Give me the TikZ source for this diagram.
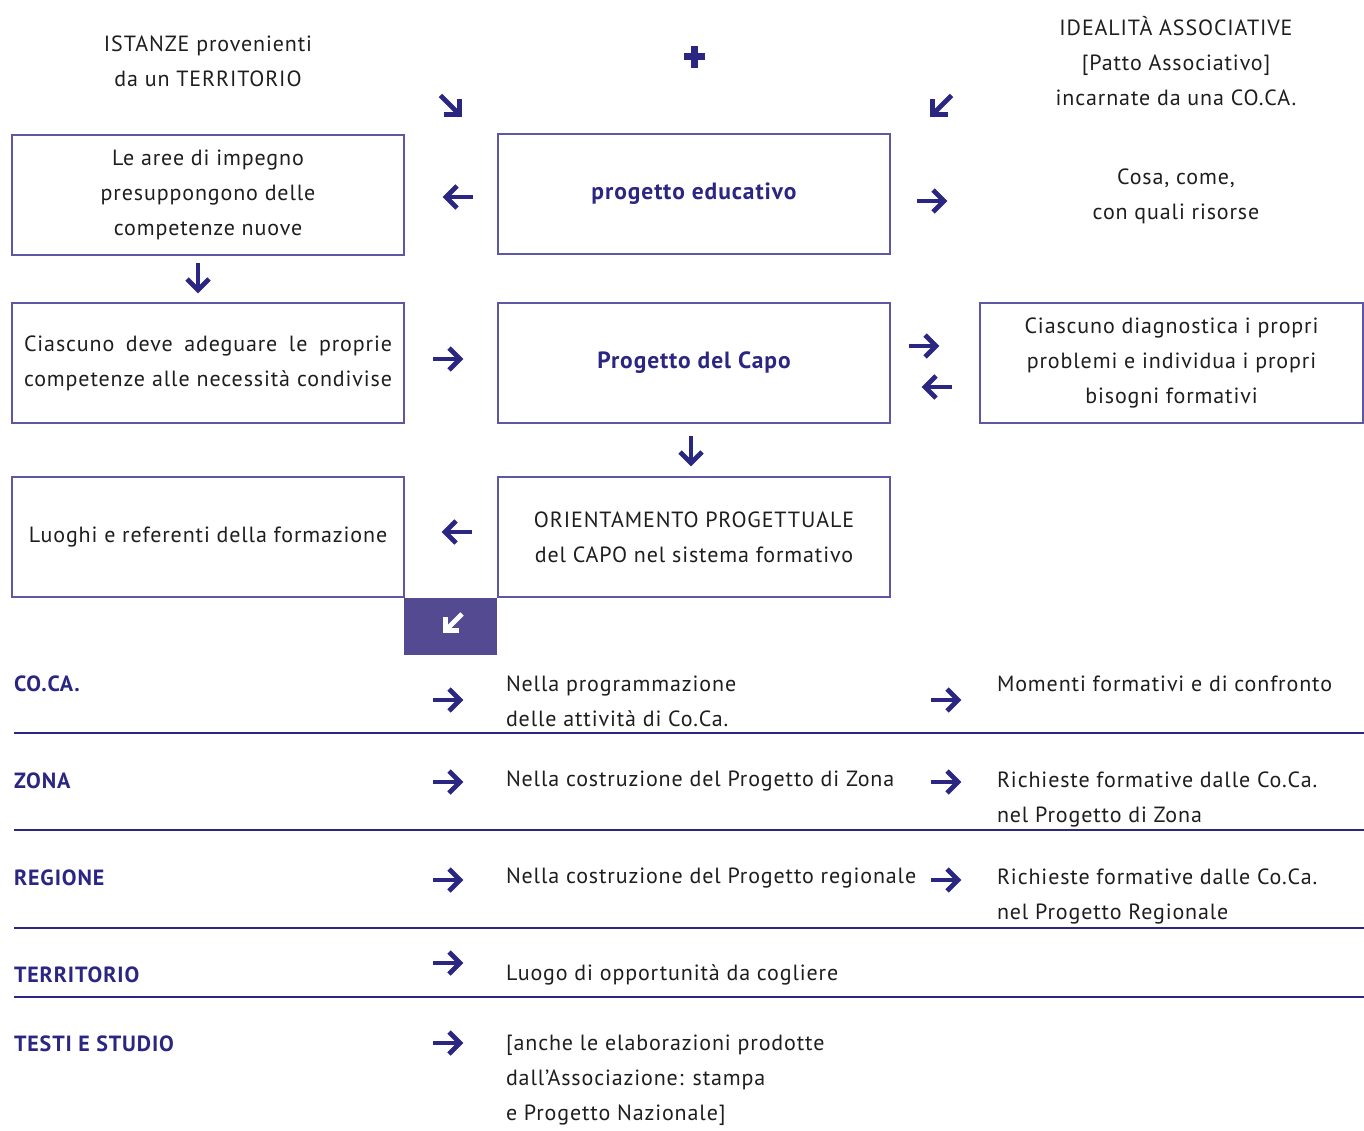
\documentclass[tikz,border=0pt]{standalone}
\usepackage{fontspec}
\setmainfont{PT Sans}[LetterSpace=4]
\definecolor{navy}{HTML}{2A2682}
\definecolor{boxline}{HTML}{5E58A4}
\definecolor{purp}{HTML}{534A92}
\definecolor{ink}{HTML}{1E1E1E}
\begin{document}
\begin{tikzpicture}[x=1pt,y=-1pt,
 every node/.style={inner sep=0pt, outer sep=0pt, font=\fontsize{22}{35}\selectfont, text=ink},
 box/.style={draw=boxline, line width=1.2pt, minimum width=392pt, minimum height=120pt, align=center},
 boxtitle/.style={font=\fontsize{23.5}{35}\selectfont\bfseries, text=navy},
 head/.style={font=\fontsize{22}{35}\selectfont\bfseries, text=navy},
 lab/.style={anchor=west, align=left},
 rowrule/.style={draw=navy, line width=1.3pt},
 pics/arr/.style={code={
   \draw[line width=4.8pt] (-15,0) -- (10,0);
   \draw[line width=4.8pt] (1,-11) -- (12,0) -- (1,11);}}]
\useasboundingbox (0,0) rectangle (1364,1131);

% top texts
\node[align=center] (ist) at (208,61) {ISTANZE provenienti\\da un TERRITORIO};
\node[align=center] (ide) at (1176,61) {IDEALITÀ ASSOCIATIVE\\{[}Patto Associativo{]}\\incarnate da una CO.CA.};
\coordinate (plus) at (694.5,57);
\draw[navy, line width=7pt] ([xshift=-10.5pt]plus) -- ([xshift=10.5pt]plus)
  ([yshift=-11pt]plus) -- ([yshift=11pt]plus);
\pic[navy, rotate=-45] (a1) at (451,106) {arr};
\pic[navy, rotate=-135] (a2) at (941,106) {arr};

% boxes row 1
\node[box] (l1) at (208,195) {Le aree di impegno\\presuppongono delle\\competenze nuove};
\node[box, boxtitle] (c1) at (694,194) {progetto educativo};
\node[align=center] (cosa) at (1176,196) {Cosa, come,\\con quali risorse};
\pic[navy, rotate=180] (a3) at (458,197) {arr};
\pic[navy] (a4) at (932,201) {arr};
\pic[navy, rotate=-90] (a5) at (198,278) {arr};

% row 2
\node[box] (l2) at (208,363) {\makebox[368pt][s]{Ciascuno deve adeguare le proprie}\\\makebox[368pt][s]{competenze alle necessità condivise}};
\node[box, boxtitle] (c2) at (694,363) {Progetto del Capo};
\node[box, minimum width=383pt] (r2) at (1171.5,363) {Ciascuno diagnostica i propri\\problemi e individua i propri\\bisogni formativi};
\pic[navy] (a6) at (448,359) {arr};
\pic[navy] (a7) at (924,346) {arr};
\pic[navy, rotate=180] (a8) at (937,387) {arr};
\pic[navy, rotate=-90] (a9) at (691,451) {arr};

% row 3
\node[box] (l3) at (208,537) {Luoghi e referenti della formazione};
\node[box] (c3) at (694,537) {ORIENTAMENTO PROGETTUALE\\del CAPO nel sistema formativo};
\pic[navy, rotate=180] (a10) at (457,532) {arr};
\node[fill=purp, minimum width=93pt, minimum height=57pt, anchor=north west] (pb) at (404,597.6) {};
\pic[white, rotate=-135, scale=0.85] (a11) at (453,623) {arr};

% bottom table
\node[head, lab] (h1) at (14,684) {CO.CA.};
\node[lab] (t1) at (506,701) {Nella programmazione\\delle attività di Co.Ca.};
\node[lab] (u1) at (997,684) {Momenti formativi e di confronto};
\pic[navy] (b1) at (448,700) {arr};
\pic[navy] (b2) at (946,700) {arr};
\draw[rowrule] (14,733) coordinate (r1a) -- (1364,733) coordinate (r1b);

\node[head, lab] (h2) at (14,781) {ZONA};
\node[lab] (t2) at (506,781) {Nella costruzione del Progetto di Zona};
\node[lab] (u2) at (997,799) {Richieste formative dalle Co.Ca.\\nel Progetto di Zona};
\pic[navy] (b3) at (448,782) {arr};
\pic[navy] (b4) at (946,782) {arr};
\draw[rowrule] (14,830) coordinate (r2a) -- (1364,830) coordinate (r2b);

\node[head, lab] (h3) at (14,878) {REGIONE};
\node[lab] (t3) at (506,878) {Nella costruzione del Progetto regionale};
\node[lab] (u3) at (997,896) {Richieste formative dalle Co.Ca.\\nel Progetto Regionale};
\pic[navy] (b5) at (448,880) {arr};
\pic[navy] (b6) at (946,880) {arr};
\draw[rowrule] (14,928) coordinate (r3a) -- (1364,928) coordinate (r3b);

\node[head, lab] (h4) at (14,975) {TERRITORIO};
\node[lab] (t4) at (506,975) {Luogo di opportunità da cogliere};
\pic[navy] (b7) at (448,963) {arr};
\draw[rowrule] (14,997) coordinate (r4a) -- (1364,997) coordinate (r4b);

\node[head, lab] (h5) at (14,1044) {TESTI E STUDIO};
\node[lab] (t5) at (506,1080) {{[}anche le elaborazioni prodotte\\dall’Associazione: stampa\\e Progetto Nazionale{]}};
\pic[navy] (b8) at (448,1043) {arr};
\end{tikzpicture}
\end{document}
